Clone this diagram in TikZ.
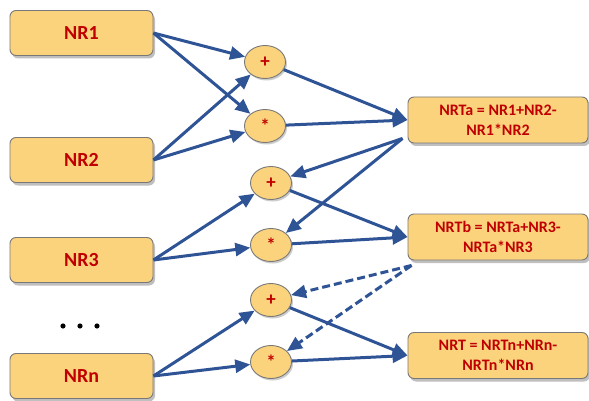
\documentclass[tikz,border=0pt]{standalone}
\usepackage{fontspec}
\setmainfont{Carlito}
\usetikzlibrary{arrows.meta,shadows,calc,shapes.geometric}
\definecolor{boxfill}{RGB}{252,211,125}
\definecolor{boxline}{RGB}{120,120,120}
\definecolor{txtred}{RGB}{192,0,0}
\definecolor{arrblue}{RGB}{47,84,150}
\newcommand{\lowstar}{\raisebox{-3.5pt}{*}}
\tikzset{
  inbox/.style={draw=boxline,line width=0.9pt,fill=boxfill,rounded corners=6pt,
    minimum width=143pt,minimum height=45pt,inner sep=0pt,
    font=\fontsize{20}{24}\selectfont\bfseries,text=txtred,
    drop shadow={shadow xshift=2pt,shadow yshift=-3pt,opacity=0.25,fill=black}},
  outbox/.style={draw=boxline,line width=0.9pt,fill=boxfill,rounded corners=6pt,
    minimum width=180pt,minimum height=46pt,inner sep=0pt,align=center,
    font=\fontsize{16}{20}\selectfont\bfseries,text=txtred,
    drop shadow={shadow xshift=2pt,shadow yshift=-3pt,opacity=0.25,fill=black}},
  op/.style={draw=boxline,line width=0.9pt,fill=boxfill,ellipse,
    minimum width=41pt,minimum height=33pt,inner sep=0pt,
    font=\fontsize{19}{21}\selectfont\bfseries,text=txtred,
    drop shadow={shadow xshift=1.5pt,shadow yshift=-2pt,opacity=0.2,fill=black}},
  conn/.style={draw=arrblue,line width=3pt,-{Triangle[length=15pt,width=13pt]}},
  dconn/.style={conn,dash pattern=on 8pt off 4pt},
}
\begin{document}
\begin{tikzpicture}[x=1pt,y=-1pt]
\useasboundingbox (0,0) rectangle (589,401);
% input boxes
\node[inbox] (nr1) at (81.5,33) {NR1};
\node[inbox] (nr2) at (81.5,160) {NR2};
\node[inbox] (nr3) at (81.5,260) {NR3};
\node[inbox] (nrn) at (81.5,376) {NRn};
% dots
\fill (63,326) circle (2.6pt) (80,326) circle (2.6pt) (97,326) circle (2.6pt);
% operators
\node[op] (p1) at (265,62) {+};
\node[op] (m1) at (265,126) {\lowstar};
\node[op] (p2) at (271,183) {+};
\node[op] (m2) at (271,245) {\lowstar};
\node[op] (p3) at (271,300) {+};
\node[op] (m3) at (271,362) {\lowstar};
% output boxes
\node[outbox] (nrta) at (498,120) {NRTa = NR1+NR2-\\NR1*NR2};
\node[outbox] (nrtb) at (498,237) {NRTb = NRTa+NR3-\\NRTa*NR3};
\node[outbox] (nrt) at (498,355.5) {NRT = NRTn+NRn-\\NRTn*NRn};
\coordinate (oa) at ($(nrta.south west)+(-5,-5)$);
\coordinate (ob) at ($(nrtb.south west)+(4,5)$);
% connectors
\draw[conn] (nr1.east) -- (p1);
\draw[conn] (nr1.east) -- (m1);
\draw[conn] (nr2.east) -- (p1);
\draw[conn] (nr2.east) -- (m1);
\draw[conn] (p1) -- (nrta.west);
\draw[conn] (m1) -- (nrta.west);
\draw[conn] (oa) -- (p2);
\draw[conn] (oa) -- (m2);
\draw[conn] (nr3.east) -- (p2);
\draw[conn] (nr3.east) -- (m2);
\draw[conn] (p2) -- (nrtb.west);
\draw[conn] (m2) -- (nrtb.west);
\draw[dconn] (ob) -- (p3);
\draw[dconn] (ob) -- (m3);
\draw[conn] (nrn.east) -- (p3);
\draw[conn] (nrn.east) -- (m3);
\draw[conn] (p3) -- (nrt.west);
\draw[conn] (m3) -- (nrt.west);
\end{tikzpicture}
\end{document}
